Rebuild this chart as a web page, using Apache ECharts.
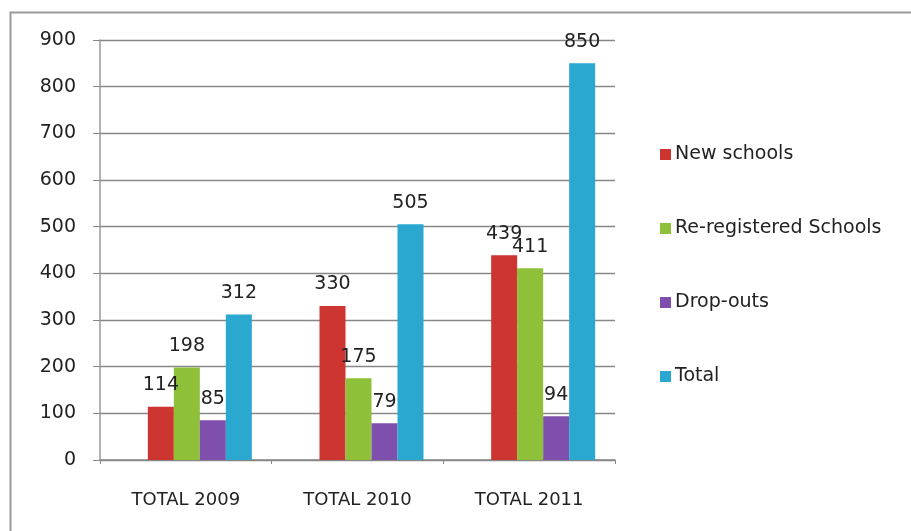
<!DOCTYPE html>
<html><head><meta charset="utf-8">
<script src="https://cdn.jsdelivr.net/npm/echarts@6/dist/echarts.min.js"></script>
<style>html,body{margin:0;padding:0;background:#fff}#c{width:911px;height:531px}</style>
</head><body><div id="c"></div>
<script>
const categories = ['TOTAL 2009', 'TOTAL 2010', 'TOTAL 2011'];
const newSchools = [114, 330, 439];
const reRegistered = [198, 175, 411];
const dropOuts = [85, 79, 94];
const totals = [312, 505, 850];
const yTicks = [0, 100, 200, 300, 400, 500, 600, 700, 800, 900];

const chart = echarts.init(document.getElementById('c'), null, {renderer: 'canvas'});
const lbl = {show: true, position: 'top', distance: 12, fontSize: 19, color: '#222', fontFamily: 'DejaVu Sans'};
function bar(name, data, color) {
  return {
    name, type: 'bar', data, xAxisIndex: 1, yAxisIndex: 1,
    barWidth: 26, barGap: '0%',
    itemStyle: {color: color},
    label: lbl
  };
}
chart.setOption({
  animation: false,
  graphic: [
    {type: 'polyline', shape: {points: [[10.5, 531], [10.5, 12.5], [911, 12.5]]}, style: {stroke: '#9a9a9a', lineWidth: 2, fill: null}}
  ],
  legend: {
    orient: 'vertical', left: 655, top: 139,
    itemWidth: 11, itemHeight: 11, itemGap: 53, icon: 'rect',
    textStyle: {fontSize: 19, color: '#222', fontFamily: 'DejaVu Sans', lineHeight: 21, padding: [0, 0, 0, -1]},
    data: ['New schools', 'Re-registered Schools', 'Drop-outs', 'Total']
  },
  grid: [
    {left: 100, right: 296, top: 40, bottom: 71},
    {left: 114, right: 282, top: 40, bottom: 71}
  ],
  xAxis: [
    {type: 'category', gridIndex: 0, data: categories,
     axisLine: {lineStyle: {color: '#888', width: 1.5}},
     axisTick: {show: true, length: 4, lineStyle: {color: '#888'}},
     axisLabel: {fontSize: 18, color: '#222', margin: 31, fontFamily: 'DejaVu Sans'}},
    {type: 'category', gridIndex: 1, data: categories, show: false}
  ],
  yAxis: [
    {type: 'value', gridIndex: 0, min: 0, max: 900, interval: 100,
     axisLine: {show: true, lineStyle: {color: '#999', width: 1.5}},
     axisTick: {show: true, length: 7, lineStyle: {color: '#888'}},
     splitLine: {lineStyle: {color: '#888', width: 1.3}},
     axisLabel: {fontSize: 19, color: '#222', margin: 24, fontFamily: 'DejaVu Sans',
       formatter: v => yTicks.includes(v) ? String(v) : ''}},
    {type: 'value', gridIndex: 1, min: 0, max: 900, interval: 100, show: false, splitLine: {show: false}}
  ],
  series: [
    bar('New schools', newSchools, '#cc3530'),
    bar('Re-registered Schools', reRegistered, '#8ec03a'),
    bar('Drop-outs', dropOuts, '#7f4fae'),
    bar('Total', totals, '#2aa8d0')
  ]
});
</script></body></html>
